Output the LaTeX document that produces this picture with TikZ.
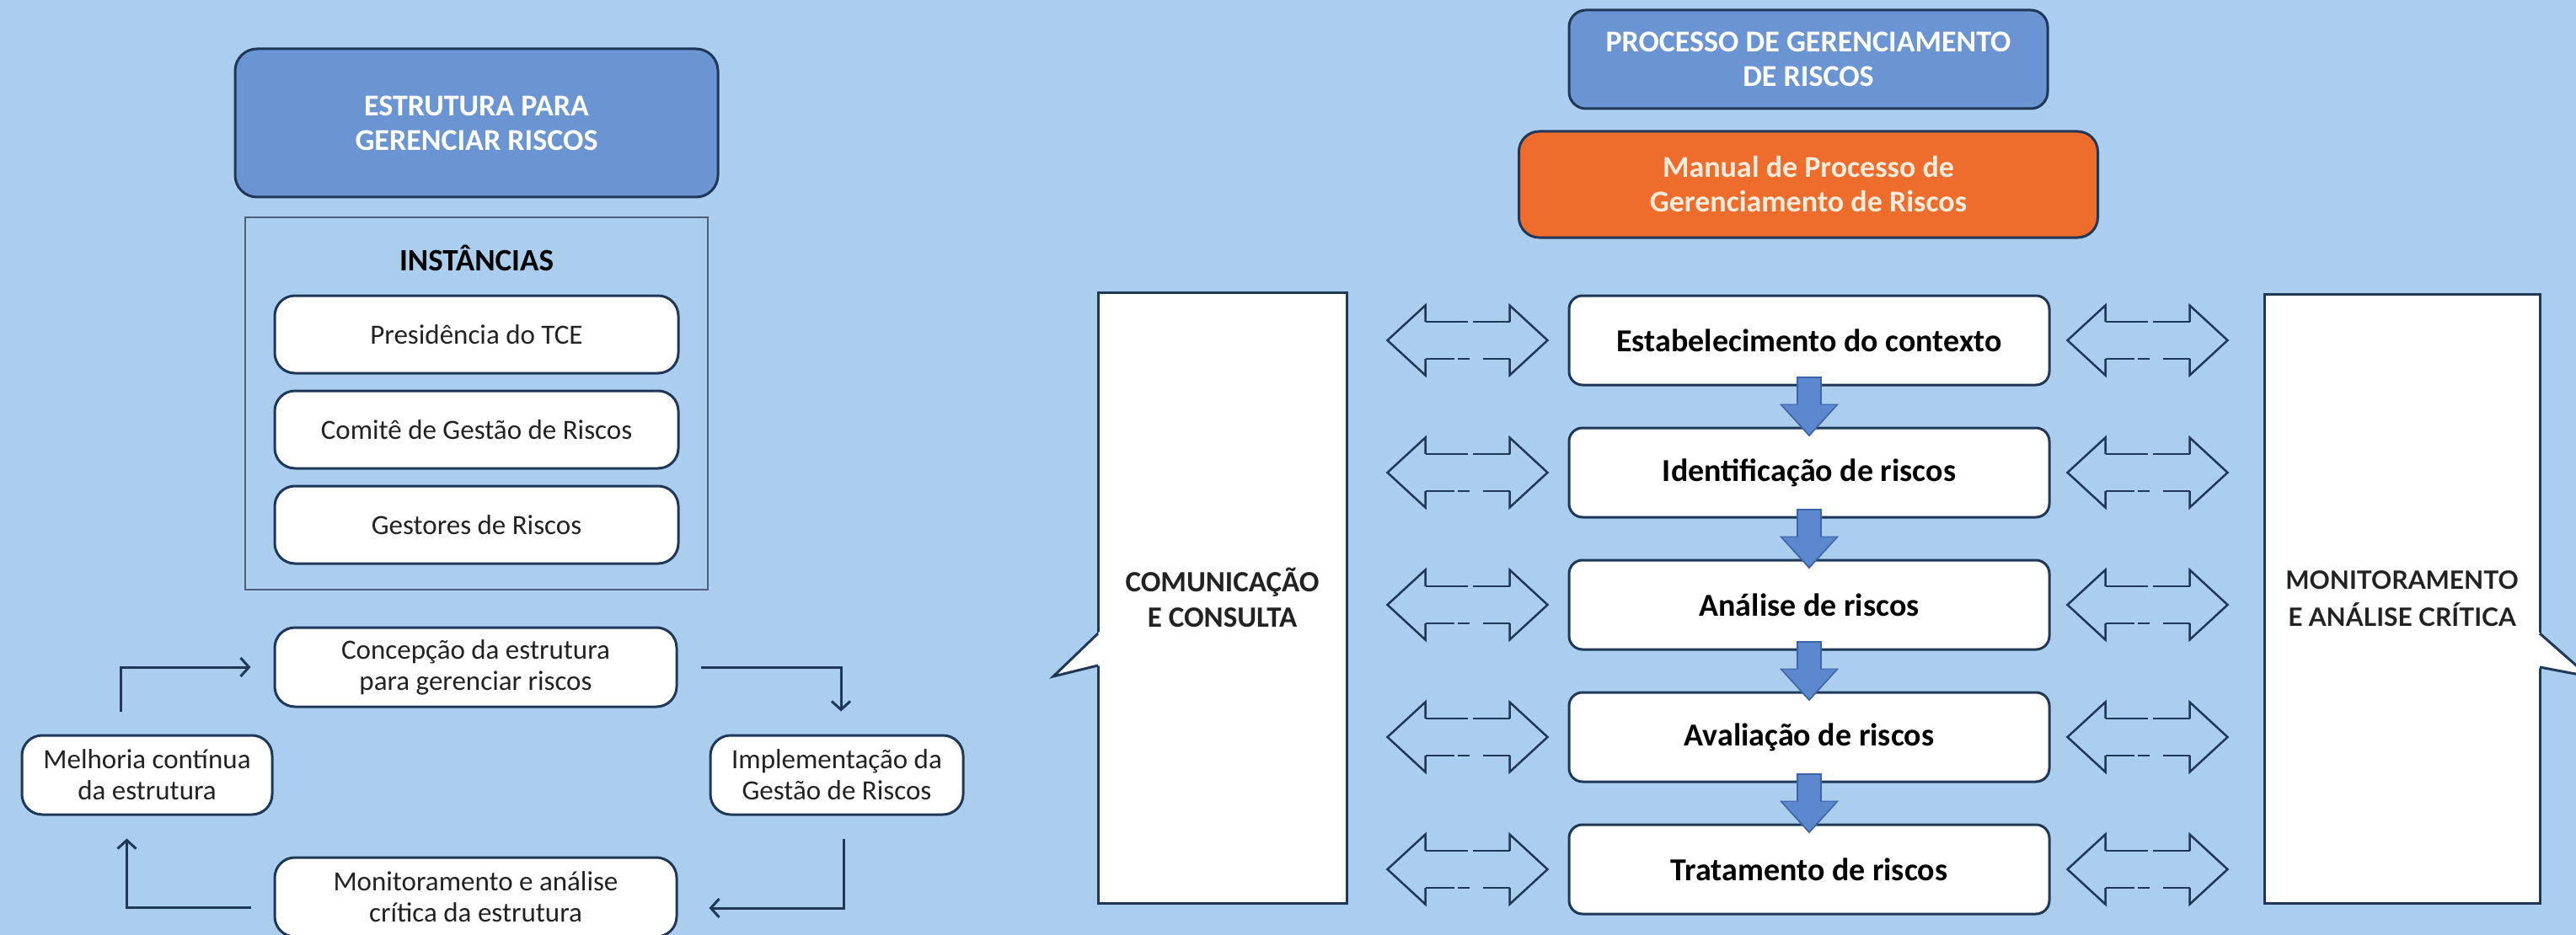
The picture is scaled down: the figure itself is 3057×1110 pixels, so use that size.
\documentclass[tikz,border=0pt]{standalone}
\usepackage{fontspec}
\setmainfont{Carlito}
\newfontfamily\latofont{Lato}
\usetikzlibrary{positioning,arrows.meta}
\definecolor{fundo}{RGB}{171,206,238}
\definecolor{navy}{RGB}{31,56,88}
\definecolor{azul}{RGB}{106,148,210}
\definecolor{laranja}{RGB}{238,108,44}
\definecolor{creme}{RGB}{253,236,220}
\definecolor{seta}{RGB}{92,137,205}
\definecolor{setaborda}{RGB}{60,100,168}
\definecolor{texto}{RGB}{34,34,34}
\begin{document}
\begin{tikzpicture}[x=1pt, y=-1pt, node distance={48pt}, line width=3pt,
    titulo/.style = {draw=navy, fill=azul, text=white, align=center, rounded corners=26pt, font=\bfseries\fontsize{36}{41}\selectfont},
    inst/.style = {draw=navy, fill=white, text=texto, rounded corners=24pt, minimum width=479pt, minimum height=92pt, font=\fontsize{33}{37}\selectfont},
    ciclo/.style = {inst, align=center, minimum height=94pt},
    etapa/.style = {draw=navy, fill=white, text=black, rounded corners=16pt, minimum width=570pt, minimum height=106pt, font=\bfseries\fontsize{38}{43}\selectfont},
    lateral/.style = {draw=navy, fill=white, text=texto, align=center, font=\bfseries\fontsize{35}{42}\selectfont},
    cyc/.style = {draw=navy, -{Straight Barb[length=10pt,width=22pt]}, shorten <=27pt, shorten >=27pt},
    desce/.style = {draw=seta, line width=26pt, -{Triangle[length=35pt,width=62pt]}},
    descefundo/.style = {draw=setaborda, line width=30pt, -{Triangle[length=39pt,width=68pt]}},
    dual/.pic = {
        \draw[navy, line width=2.5pt, line join=miter] (-50,-22) -- (-50,-41.5) -- (-95,0) -- (-50,41.5) -- (-50,22);
        \draw[navy, line width=2.5pt, line join=miter] (50,-22) -- (50,-41.5) -- (95,0) -- (50,41.5) -- (50,22);
        \draw[navy, line width=2.5pt, dash pattern=on 50pt off 6pt] (-50,-22) -- (50,-22);
        \draw[navy, line width=2.5pt, dash pattern=on 34pt off 4pt on 14pt off 16pt] (-50,22) -- (50,22);
    }]
    \useasboundingbox (0,0) rectangle (3057,1110);
    \fill[fundo] (0,0) rectangle (3057,1110);

    % estrutura
    \node[titulo, minimum width=573pt, minimum height=176pt] (e) at (565.5,146) {ESTRUTURA PARA\\GERENCIAR RISCOS};
    \node[draw=navy!80, line width=2pt, minimum width=549pt, minimum height=442pt] (box) at (565.5,479) {};
    \node[anchor=base, text=black, font=\bfseries\fontsize{37}{42}\selectfont] (ti) at (565.5,321) {INSTÂNCIAS};
    \node[inst] (i1) at (565.5,397) {Presidência do TCE};
    \node[inst, below=18pt of i1] (i2) {Comitê de Gestão de Riscos};
    \node[inst, below=18pt of i2] (i3) {Gestores de Riscos};

    % ciclo
    \node[ciclo, minimum width=477pt] (c1) at (564.5,792) {Concepção da estrutura\\para gerenciar riscos};
    \node[ciclo, minimum width=300pt] (c2) at (993,920) {Implementação da\\Gestão de Riscos};
    \node[ciclo, minimum width=477pt] (c3) at (564.5,1065) {Monitoramento e análise\\crítica da estrutura};
    \node[ciclo, minimum width=297pt] (c4) at (174.5,920) {Melhoria contínua\\da estrutura};

    \draw[cyc] ([xshift=-31pt]c4.north) |- (c1.west);
    \draw[cyc] (c1.east) -| ([xshift=5pt]c2.north);
    \draw[cyc, shorten >=37pt] ([xshift=8pt]c2.south) |- ([yshift=-13pt]c3.east);
    \draw[cyc] ([yshift=-12pt]c3.west) -| ([xshift=-24pt]c4.south);

    % processo
    \node[titulo, minimum width=568pt, minimum height=117pt, rounded corners=20pt] (t2) at (2146,70.5) {PROCESSO DE GERENCIAMENTO\\DE RISCOS};
    \node[titulo, fill=laranja, text=creme, minimum width=687pt, minimum height=126pt, rounded corners=24pt, below=24pt of t2] (m) {Manual de Processo de\\Gerenciamento de Riscos};

    \node[etapa] (p1) at (2147,404) {Estabelecimento do contexto};
    \node[etapa, below=of p1] (p2) {Identificação de riscos};
    \node[etapa, below=of p2] (p3) {Análise de riscos};
    \node[etapa, below=of p3] (p4) {Avaliação de riscos};
    \node[etapa, below=of p4] (p5) {Tratamento de riscos};

    \node[lateral, minimum width=295pt, minimum height=725pt] (cc) at (1450.5,709.5) {COMUNICAÇÃO\\E CONSULTA};
    \node[lateral, font=\latofont\bfseries\fontsize{30}{44}\selectfont, minimum width=327pt, minimum height=723pt] (ma) at (2850.5,710.5) {MONITORAMENTO\\E ANÁLISE CRÍTICA};

    % pontas dos baloes
    \fill[white] (1306,749) -- (1250,803) -- (1306,790) -- cycle;
    \draw[navy, line join=miter] (1303,752) -- (1250,803) -- (1303,790);
    \fill[white] (3011,749) -- (3072,803) -- (3011,793) -- cycle;
    \draw[navy, line join=miter] (3014,752) -- (3072,803) -- (3014,792);

    \foreach \a/\b in {p1/p2, p2/p3, p3/p4, p4/p5} {
        \draw[descefundo] ([yshift=12pt]\a.south) -- ([yshift=-12pt]\b.north);
        \draw[desce] ([yshift=10pt]\a.south) -- ([yshift=-9pt]\b.north);
    }

    \foreach \n in {1,...,5} {
        \pic at ([xshift=-119pt]p\n.west) {dual};
        \pic at ([xshift=115pt]p\n.east) {dual};
    }
\end{tikzpicture}
\end{document}
